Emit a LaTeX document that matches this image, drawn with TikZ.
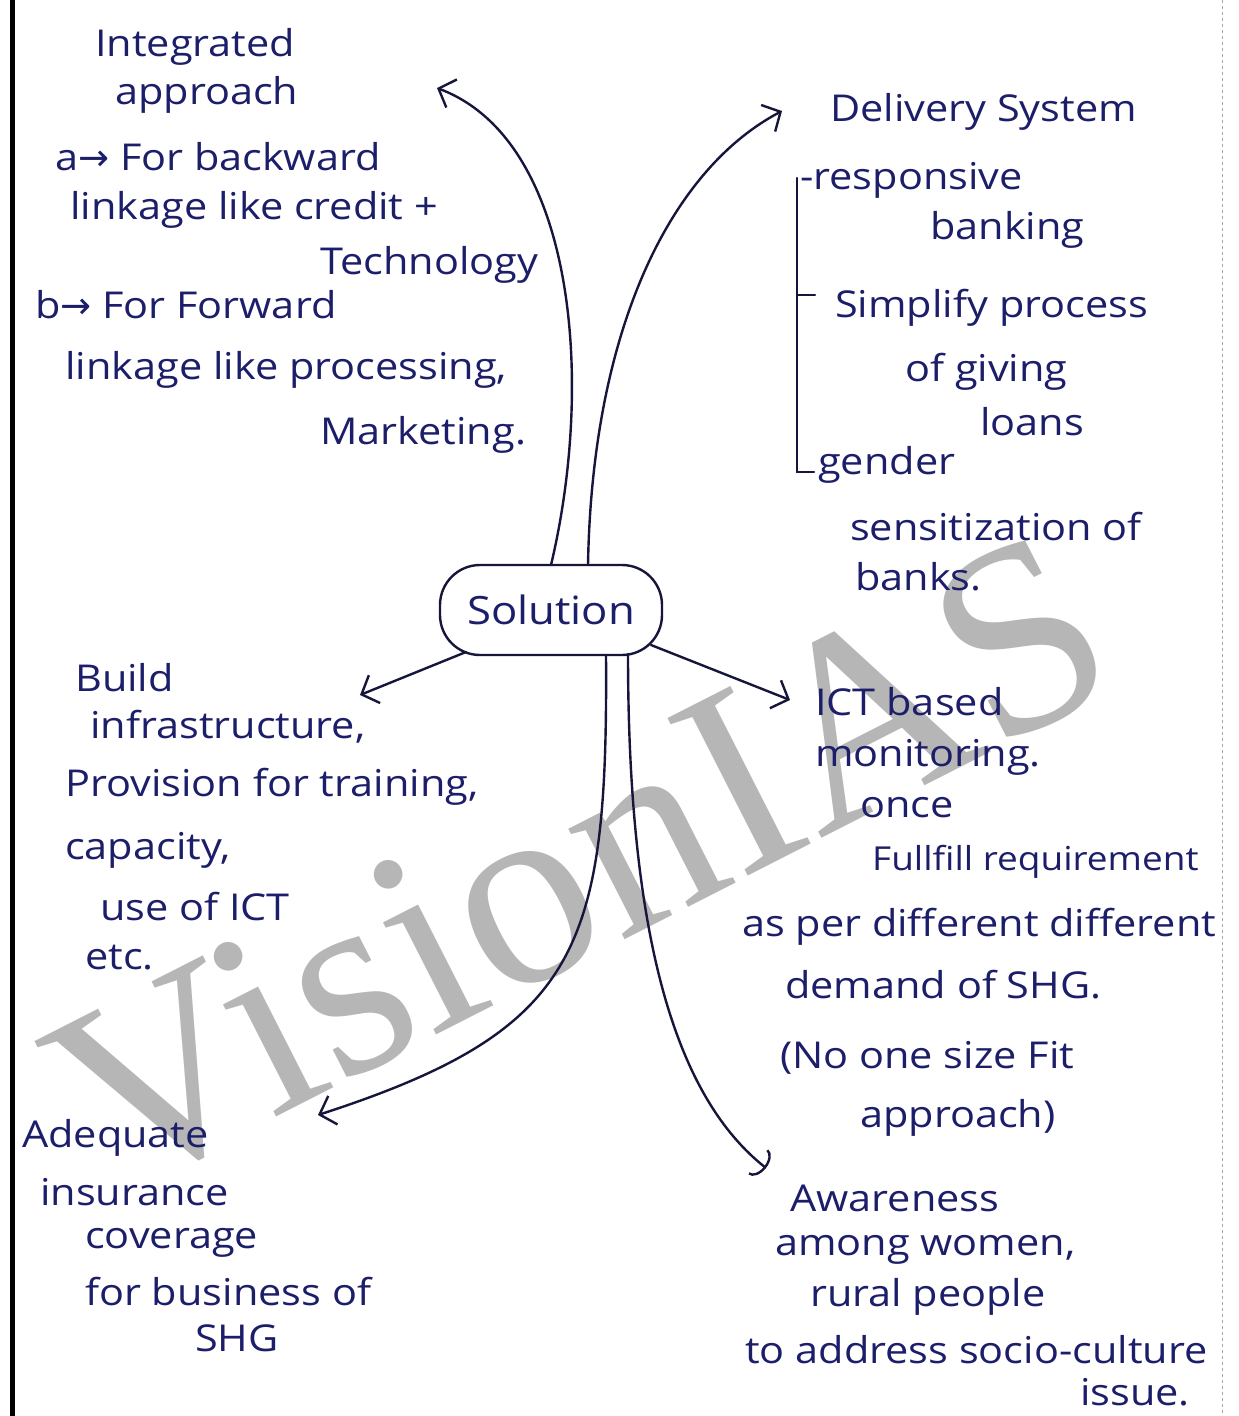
\documentclass[tikz,border=0pt]{standalone}
\usepackage{fontspec}
\setmainfont{Open Sans}[FakeStretch=1.12]
\newfontfamily\markfont{Liberation Serif}
\newfontfamily\arrowfont{DejaVu Sans}
\usetikzlibrary{arrows.meta,calc}
\definecolor{ink}{RGB}{28,30,105}
\definecolor{pen}{RGB}{22,22,60}
\definecolor{wmark}{RGB}{182,182,182}
\newcommand{\harrow}{{\arrowfont →}}
\begin{document}
\begin{tikzpicture}[x=1pt,y=-1pt,
  txt/.style={anchor=west,inner sep=0pt,text=ink,font=\fontsize{37}{44}\selectfont},
  tight/.style={font=\fontsize{33}{40}\selectfont},
  hub/.style={draw=pen,line width=2.4pt,rounded corners=40pt,minimum width=222pt,
    minimum height=90pt,inner sep=0pt,text=ink,font=\fontsize{39}{46}\selectfont},
  link/.style={draw=pen,line width=2.4pt,line cap=round,
    -{Straight Barb[length=14pt,width=30pt,line width=2.4pt]}},
  cuplink/.style={draw=pen,line width=2.4pt,line cap=round,
    -{Arc Barb[length=10pt,width=32pt,line width=2.4pt]}},
  bracket/.style={draw=pen,line width=2.2pt,line cap=round}]

\useasboundingbox (0,0) rectangle (1239,1416);
\fill[white] (0,0) rectangle (1239,1416);

% watermark
\node[rotate=27,text=wmark,inner sep=0pt,
  font=\markfont\fontsize{270}{270}\selectfont] (wm) at (580,864) {VisionIAS};

% page edges
\draw[line width=5pt,black] (12,0) -- (12,1416);
\draw[gray!70,dashed,line width=1pt] (1222,0) -- (1222,1416);

% central node
\node[hub] (sol) at (551,610) {Solution};

% integrated approach
\node[txt] (ia1) at (95,47)  {Integrated};
\node[txt] (ia2) at (115,95) {approach};
\node[txt] (ia3) at (55,157) {a\harrow\ For backward};
\node[txt] (ia4) at (70,210) {linkage like credit +};
\node[txt] (ia5) at (320,265) {Technology};
\node[txt] (ia6) at (35,305) {b\harrow\ For Forward};
\node[txt] (ia7) at (65,370) {linkage like processing,};
\node[txt] (ia8) at (320,435) {Marketing.};

% delivery system
\node[txt] (ds1) at (830,112) {Delivery System};
\node[txt] (ds2) at (800,180) {-responsive};
\node[txt] (ds3) at (930,230) {banking};
\node[txt] (ds4) at (835,308) {Simplify process};
\node[txt] (ds5) at (905,372) {of giving};
\node[txt] (ds6) at (980,422) {loans};
\node[txt] (ds7) at (818,465) {gender};
\node[txt] (ds8) at (850,527) {sensitization of};
\node[txt] (ds9) at (855,577) {banks.};

% build infrastructure
\node[txt] (bi1) at (75,678)  {Build};
\node[txt] (bi2) at (90,727)  {infrastructure,};
\node[txt] (bi3) at (65,787)  {Provision for training,};
\node[txt] (bi4) at (65,850)  {capacity,};
\node[txt] (bi5) at (100,907) {use of ICT};
\node[txt] (bi6) at (85,958)  {etc.};

% ICT based monitoring
\node[txt] (ic1) at (815,702)  {ICT based};
\node[txt] (ic2) at (815,757)  {monitoring.};
\node[txt] (ic3) at (860,808)  {once};
\node[txt,tight] (ic4) at (872,862)  {Fullfill requirement};
\node[txt] (ic5) at (742,927)  {as per different different};
\node[txt] (ic6) at (785,985)  {demand of SHG.};
\node[txt] (ic7) at (780,1058) {(No one size Fit};
\node[txt] (ic8) at (860,1118) {approach)};

% insurance
\node[txt] (in1) at (22,1138) {Adequate};
\node[txt] (in2) at (40,1192) {insurance};
\node[txt] (in3) at (85,1243) {coverage};
\node[txt] (in4) at (85,1292) {for business of};
\node[txt] (in5) at (195,1338) {SHG};

% awareness
\node[txt] (aw1) at (790,1198) {Awareness};
\node[txt] (aw2) at (775,1250) {among women,};
\node[txt] (aw3) at (810,1297) {rural people};
\node[txt] (aw4) at (745,1350) {to address socio-culture};
\node[txt] (aw5) at (1080,1392) {issue.};

% arrow ends
\coordinate (tA) at (437,88);
\coordinate (tB) at (782,111);
\coordinate (tC) at (360,695);
\coordinate (tD) at (790,700);
\coordinate (tE) at (318,1115);
\coordinate (tF) at (766,1168);

% connectors from the hub
\draw[link] ($(sol.center)+(0,-45)$) .. controls (595,380) and (575,140) .. (tA);
\draw[link] ($(sol.center)+(37,-45)$) .. controls (592,330) and (670,170) .. (tB);
\draw[link] ($(sol.center)+(-85,42)$) -- (tC);
\draw[link] ($(sol.center)+(100,35)$) -- (tD);
\draw[link] ($(sol.center)+(55,45)$) .. controls (608,950) and (580,1030) .. (tE);
\draw[cuplink] ($(sol.center)+(77,44)$) .. controls (628,950) and (680,1100) .. (tF);

% bracket grouping the delivery items
\draw[bracket] (797,178) -- (797,472) -- (814,472);
\draw[bracket] (797,295) -- (815,295);

\end{tikzpicture}
\end{document}
